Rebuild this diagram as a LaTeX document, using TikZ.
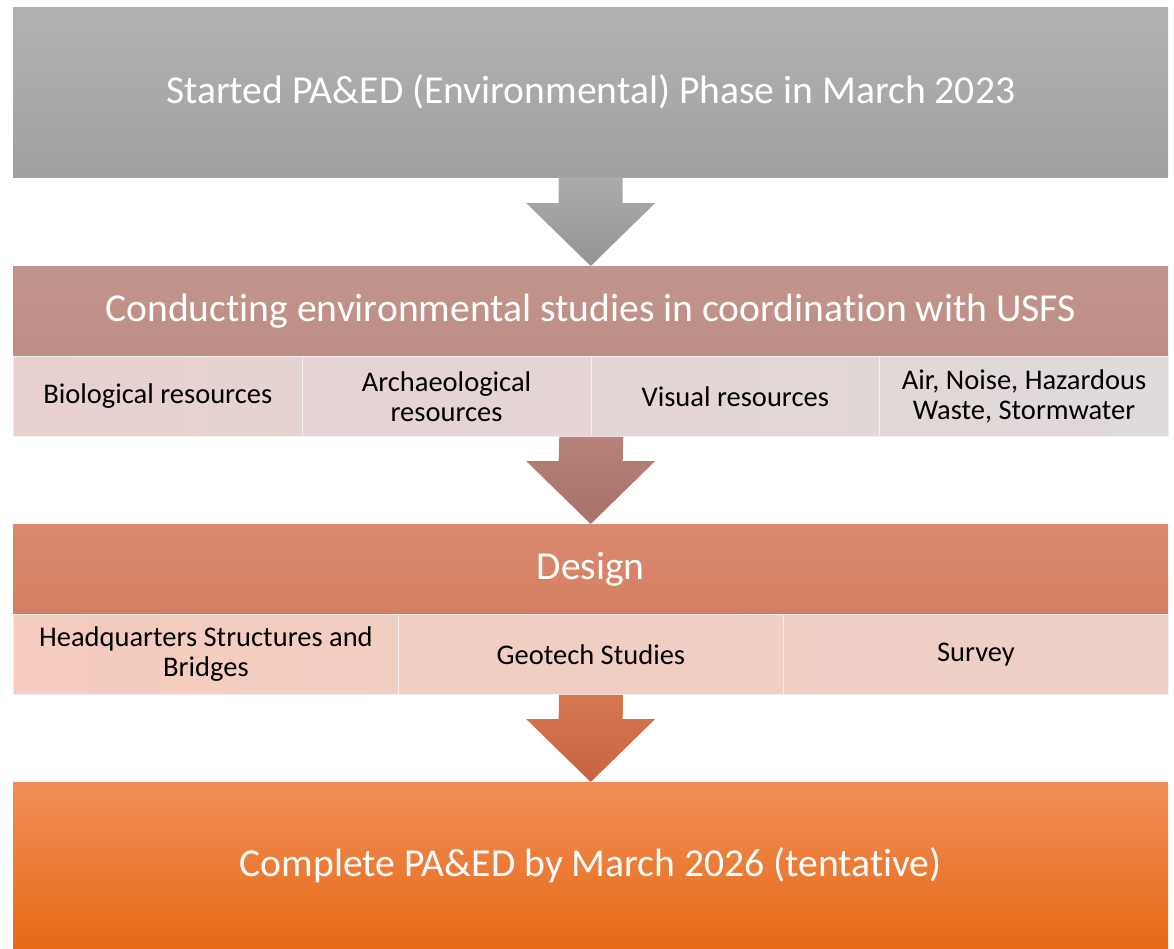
\documentclass[tikz,border=0pt]{standalone}
\usepackage{fontspec}
\setmainfont{Carlito}[RawFeature=-liga]
\usetikzlibrary{calc}
\definecolor{gAtop}{RGB}{178,178,178}
\definecolor{gAbot}{RGB}{160,160,160}
\definecolor{arAtop}{RGB}{172,172,172}
\definecolor{arAbot}{RGB}{148,148,148}
\definecolor{hBtop}{RGB}{193,148,140}
\definecolor{hBbot}{RGB}{189,142,134}
\definecolor{sBl}{RGB}{233,208,208}
\definecolor{sBr}{RGB}{224,218,218}
\definecolor{arBtop}{RGB}{182,130,122}
\definecolor{arBbot}{RGB}{168,113,105}
\definecolor{hCtop}{RGB}{217,137,110}
\definecolor{hCbot}{RGB}{213,127,98}
\definecolor{sCl}{RGB}{245,204,190}
\definecolor{sCr}{RGB}{237,208,200}
\definecolor{arCtop}{RGB}{213,120,82}
\definecolor{arCbot}{RGB}{198,98,64}
\definecolor{hDtop}{RGB}{241,142,88}
\definecolor{hDbot}{RGB}{230,106,22}
\begin{document}
\begin{tikzpicture}[x=1pt,y=-1pt,
  bigbox/.style={anchor=north west, inner sep=0pt, minimum width=1155pt,
    text=white, font=\fontsize{39.6}{46}\selectfont, align=center},
  subbox/.style={anchor=north west, inner sep=0pt, minimum height=80pt,
    draw=white!60!sBr, line width=0.8pt, text=black, font=\fontsize{28.5}{30}\selectfont, align=center},
]
\useasboundingbox (0,0) rectangle (1174,948);

% stage 1
\node[bigbox, minimum height=170pt, top color=gAtop, bottom color=gAbot] (b1) at (13,7)
  {Started PA\&ED (Environmental) Phase in March 2023};

% stage 2
\node[bigbox, minimum height=90pt, top color=hBtop, bottom color=hBbot] (b2) at (13,266)
  {Conducting environmental studies in coordination with USFS};
\node[subbox, minimum width=288.75pt, left color=sBl, right color=sBr!25!sBl] (s21) at (13,356)
  {Biological resources};
\node[subbox, minimum width=288.75pt, left color=sBr!25!sBl, right color=sBr!50!sBl] (s22) at (301.75,356)
  {Archaeological\\resources};
\node[subbox, minimum width=288.75pt, left color=sBr!50!sBl, right color=sBr!75!sBl] (s23) at (590.5,356)
  {Visual resources};
\node[subbox, minimum width=288.75pt, left color=sBr!75!sBl, right color=sBr] (s24) at (879.25,356)
  {Air, Noise, Hazardous\\Waste, Stormwater};

% stage 3
\node[bigbox, minimum height=90pt, top color=hCtop, bottom color=hCbot] (b3) at (13,524)
  {Design};
\node[subbox, minimum width=385pt, left color=sCl, right color=sCr!33!sCl] (s31) at (13,614)
  {Headquarters Structures and\\Bridges};
\node[subbox, minimum width=385pt, left color=sCr!33!sCl, right color=sCr!67!sCl] (s32) at (398,614)
  {Geotech Studies};
\node[subbox, minimum width=385pt, left color=sCr!67!sCl, right color=sCr] (s33) at (783,614)
  {Survey};

% stage 4
\node[bigbox, minimum height=166pt, top color=hDtop, bottom color=hDbot] (b4) at (13,782)
  {Complete PA\&ED by March 2026 (tentative)};

% block arrows
\shade[top color=arAtop, bottom color=arAbot]
  ($(b1.south)+(-32,0)$) -- ($(b1.south)+(32,0)$) -- ($(b2.north)+(32,-63)$)
  -- ($(b2.north)+(64.5,-63)$) -- (b2.north) -- ($(b2.north)+(-64.5,-63)$)
  -- ($(b2.north)+(-32,-63)$) -- cycle;
\shade[top color=arBtop, bottom color=arBbot]
  ($(s22.south east)+(-32,0)$) -- ($(s22.south east)+(32,0)$) -- ($(b3.north)+(32,-63)$)
  -- ($(b3.north)+(64.5,-63)$) -- (b3.north) -- ($(b3.north)+(-64.5,-63)$)
  -- ($(b3.north)+(-32,-63)$) -- cycle;
\shade[top color=arCtop, bottom color=arCbot]
  ($(s32.south)+(-32,0)$) -- ($(s32.south)+(32,0)$) -- ($(b4.north)+(32,-63)$)
  -- ($(b4.north)+(64.5,-63)$) -- (b4.north) -- ($(b4.north)+(-64.5,-63)$)
  -- ($(b4.north)+(-32,-63)$) -- cycle;
\end{tikzpicture}
\end{document}
